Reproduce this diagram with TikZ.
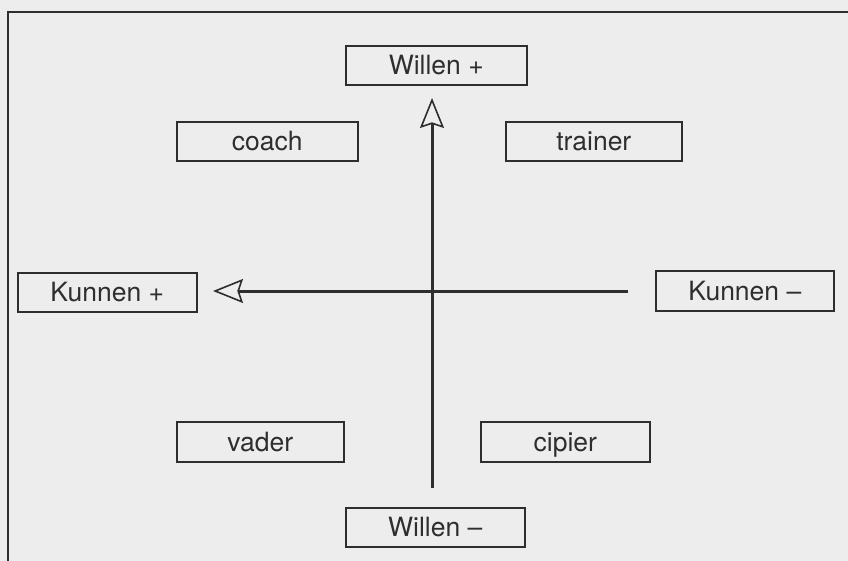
\documentclass[tikz,border=0pt]{standalone}
\usepackage{fontspec}
\setmainfont{TeX Gyre Heros}
\usetikzlibrary{arrows.meta}
\definecolor{paper}{HTML}{EDEDED}
\definecolor{ink}{HTML}{2E2E2E}
\tikzset{
  lbl/.style={draw=ink, line width=1.6pt, text=ink, font=\fontsize{26.5}{30}\selectfont,
              inner sep=0pt, text height=18.5pt, text depth=0pt, anchor=north west},
  axis/.style={draw=ink, line width=3pt,
               -{Stealth[open, length=30pt, width=24pt, inset=4pt, line width=1.6pt]}},
}
\begin{document}
\begin{tikzpicture}[x=1pt, y=-1pt]
\useasboundingbox[fill=paper] (0,0) rectangle (848,561);
% outer frame
\draw[ink, line width=2pt] (848,12) -- (8,12) -- (8,561);
% boxes
\node[lbl, minimum width=181pt, minimum height=39pt] (wplus) at (345,45) {Willen +};
\node[lbl, minimum width=179pt, minimum height=39pt] (wmin) at (345,507) {Willen –};
\node[lbl, minimum width=179pt, minimum height=39pt] (kplus) at (17,272) {Kunnen +};
\node[lbl, minimum width=178pt, minimum height=40pt] (kmin) at (655,270) {Kunnen –};
\node[lbl, minimum width=181pt, minimum height=39pt] (coach) at (176,121) {coach};
\node[lbl, minimum width=176pt, minimum height=39pt] (trainer) at (505,121) {trainer};
\node[lbl, minimum width=167pt, minimum height=40pt] (vader) at (176,421) {vader};
\node[lbl, minimum width=169pt, minimum height=40pt] (cipier) at (480,421) {cipier};
% axes
\coordinate (vbot) at (432,488);
\coordinate (vtop) at (432,98);
\coordinate (hright) at (628,291);
\coordinate (hleft) at (213,291);
\draw[axis] (vbot) -- (vtop);
\draw[axis] (hright) -- (hleft);
\end{tikzpicture}
\end{document}
